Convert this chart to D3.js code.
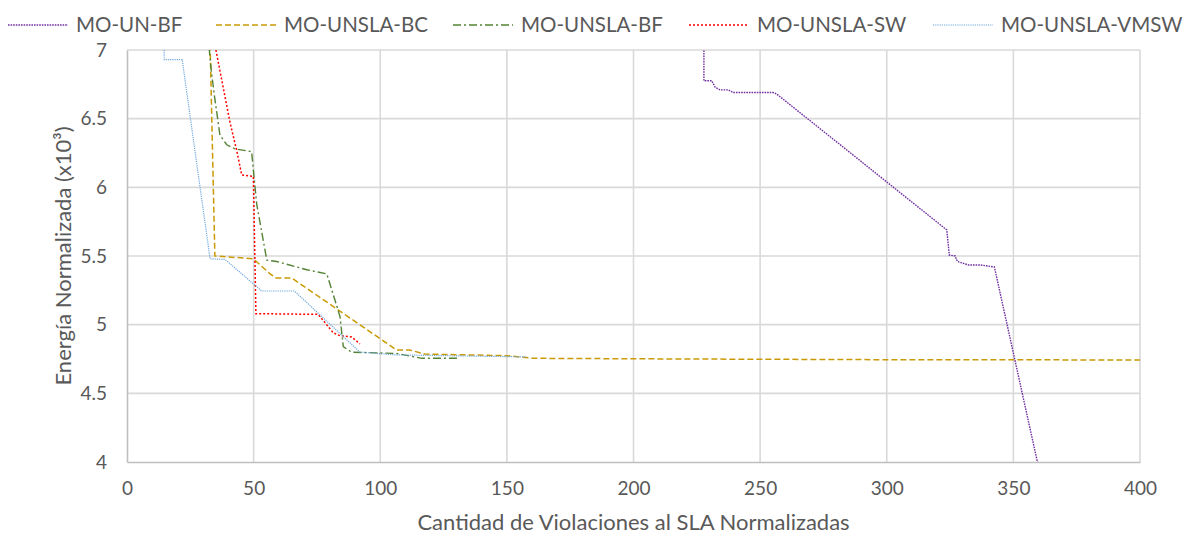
<!DOCTYPE html>
<html>
<head>
<meta charset="utf-8">
<script src="https://cdn.jsdelivr.net/npm/d3@7"></script>
<style>
  html, body { margin: 0; padding: 0; background: #ffffff; }
  svg text { font-family: Lato, "Open Sans", sans-serif; fill: #595959; }
</style>
</head>
<body>
<svg id="chart" width="1192" height="534"></svg>
<script>
// Series names, in drawing order
const seriesNames = ["MO-UN-BF", "MO-UNSLA-BC", "MO-UNSLA-BF", "MO-UNSLA-SW", "MO-UNSLA-VMSW"];

// Pareto fronts: normalized SLA violations (x) and normalized energy x10^3 (y)
const unBfX = [227.8, 227.8, 230.9, 232.2, 234.2, 237.4, 239.4, 255.2, 256.5, 323.7, 324.7, 327.0, 327.9, 329.6, 332.2, 336.8, 342.5, 362.0];
const unBfY = [7.30, 6.776, 6.776, 6.73, 6.71, 6.71, 6.69, 6.69, 6.68, 5.69, 5.507, 5.50, 5.46, 5.45, 5.435, 5.435, 5.42, 3.79];

const bcX = [32.5, 34.7, 49.9, 56.5, 58.8, 65.0, 106.5, 111.7, 117.7, 150.0, 160.3, 220.0, 300.0, 400.0];
const bcY = [7.30, 5.50, 5.48, 5.37, 5.34, 5.34, 4.815, 4.815, 4.786, 4.774, 4.755, 4.75, 4.745, 4.743];

const bfX = [32.3, 32.5, 33.4, 34.5, 36.7, 39.4, 42.6, 49.2, 51.2, 55.2, 59.1, 63.1, 67.0, 71.0, 78.9, 84.1, 85.4, 88.7, 106.5, 116.4, 130.8];
const bfY = [7.25, 7.00, 6.83, 6.67, 6.38, 6.31, 6.28, 6.26, 5.88, 5.47, 5.46, 5.44, 5.42, 5.40, 5.37, 5.06, 4.84, 4.80, 4.79, 4.755, 4.755];

const swX = [33.0, 40.7, 43.3, 45.3, 49.9, 50.9, 75.5, 81.5, 84.1, 88.7, 92.0];
const swY = [7.20, 6.47, 6.27, 6.09, 6.08, 5.08, 5.075, 4.94, 4.92, 4.91, 4.86];

const vmswX = [14.5, 14.7, 21.8, 32.8, 38.7, 53.2, 66.1, 92.0, 105.8, 157.8];
const vmswY = [7.40, 6.93, 6.93, 5.48, 5.475, 5.245, 5.245, 4.80, 4.78, 4.765];

// Axis ticks
const xTicks = [0, 50, 100, 150, 200, 250, 300, 350, 400];
const yTicks = [4, 4.5, 5, 5.5, 6, 6.5, 7];

const xTitle = "Cantidad de Violaciones al SLA Normalizadas";
const yTitle = "Energía Normalizada (x10³)";

// Styling per series
const styles = [
  { color: "#7030A0", dash: "1.6,1.0", width: 1.4 },
  { color: "#C99A06", dash: "6,3",     width: 1.5 },
  { color: "#548235", dash: "8,3,2,3", width: 1.4 },
  { color: "#FF0000", dash: "2,2",     width: 1.5 },
  { color: "#6FA8DC", dash: "1.2,1.0", width: 1.2 }
];

const seriesData = [
  d3.zip(unBfX, unBfY),
  d3.zip(bcX, bcY),
  d3.zip(bfX, bfY),
  d3.zip(swX, swY),
  d3.zip(vmswX, vmswY)
];

const svg = d3.select("#chart");
const plot = { left: 127, right: 1140, top: 50, bottom: 462 };

const x = d3.scaleLinear().domain([0, 400]).range([plot.left, plot.right]);
const y = d3.scaleLinear().domain([4, 7]).range([plot.bottom, plot.top]);

// Gridlines
const grid = svg.append("g");
grid.selectAll("line.h").data(yTicks.slice(1)).join("line")
  .attr("x1", plot.left).attr("x2", plot.right)
  .attr("y1", d => y(d)).attr("y2", d => y(d))
  .attr("stroke", "#d9d9d9").attr("stroke-width", 1.6);
grid.selectAll("line.v").data(xTicks.slice(1)).join("line")
  .attr("y1", plot.top).attr("y2", plot.bottom)
  .attr("x1", d => x(d)).attr("x2", d => x(d))
  .attr("stroke", "#d9d9d9").attr("stroke-width", 1.6);

// Axes
const xAxis = svg.append("g")
  .attr("transform", `translate(0,${plot.bottom})`)
  .call(d3.axisBottom(x).tickValues(xTicks).tickSize(0).tickPadding(20).tickFormat(d3.format("d")));
const yAxis = svg.append("g")
  .attr("transform", `translate(${plot.left},0)`)
  .call(d3.axisLeft(y).tickValues(yTicks).tickSize(0).tickPadding(20).tickFormat(d => String(d)));
[xAxis, yAxis].forEach(a => {
  a.select(".domain").attr("stroke", "#bfbfbf").attr("stroke-width", 1.6);
  a.selectAll("text").style("font-size", "19px").attr("fill", "#595959");
});

// Axis titles
svg.append("text")
  .attr("x", (plot.left + plot.right) / 2).attr("y", 530)
  .attr("text-anchor", "middle").style("font-size", "22px")
  .text(xTitle);
svg.append("text")
  .attr("transform", `translate(71,${(plot.top + plot.bottom) / 2}) rotate(-90)`)
  .attr("text-anchor", "middle").style("font-size", "22px")
  .text(yTitle);

// Series lines clipped to the plot area
svg.append("clipPath").attr("id", "plotClip")
  .append("rect")
  .attr("x", plot.left).attr("y", plot.top)
  .attr("width", plot.right - plot.left).attr("height", plot.bottom - plot.top);

const line = d3.line().x(d => x(d[0])).y(d => y(d[1]));
svg.append("g").attr("clip-path", "url(#plotClip)")
  .selectAll("path").data(seriesData).join("path")
  .attr("d", line)
  .attr("fill", "none")
  .attr("stroke", (d, i) => styles[i].color)
  .attr("stroke-width", (d, i) => styles[i].width)
  .attr("stroke-dasharray", (d, i) => styles[i].dash);

// Legend
const legendX = [8, 216, 453, 689, 933];
const legend = svg.append("g");
const items = legend.selectAll("g").data(seriesNames).join("g")
  .attr("transform", (d, i) => `translate(${legendX[i]},25)`);
items.append("line")
  .attr("x1", 0).attr("x2", 60).attr("y1", 0).attr("y2", 0)
  .attr("stroke", (d, i) => styles[i].color)
  .attr("stroke-width", (d, i) => styles[i].width)
  .attr("stroke-dasharray", (d, i) => styles[i].dash);
items.append("text")
  .attr("x", 68).attr("y", 0).attr("dy", "0.35em")
  .style("font-size", "20.5px")
  .text(d => d);
</script>
</body>
</html>
